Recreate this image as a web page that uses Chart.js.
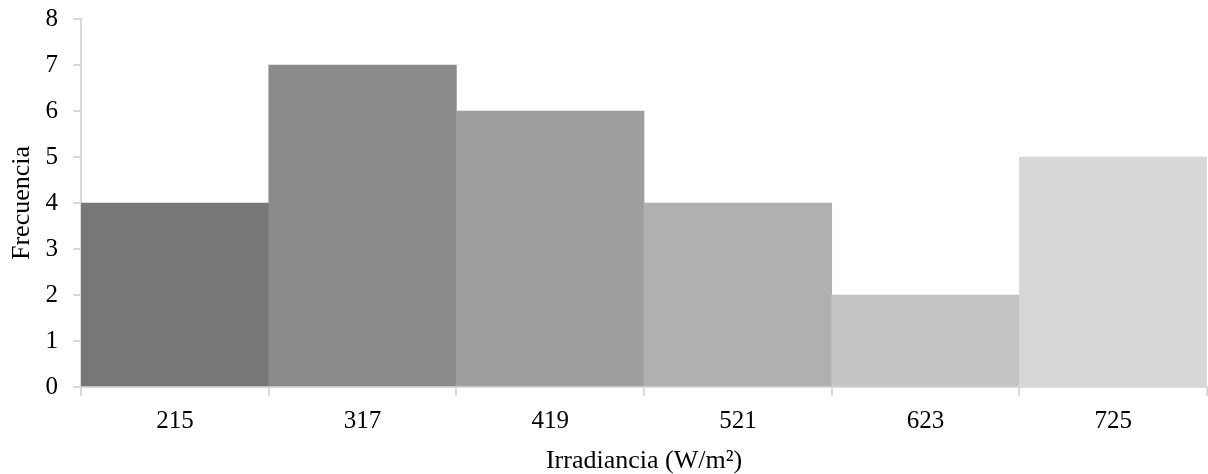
<!DOCTYPE html>
<html>
<head>
<meta charset="utf-8">
<script src="https://cdn.jsdelivr.net/npm/chart.js@4/dist/chart.umd.min.js"></script>
<style>
  html, body { margin: 0; padding: 0; background: #fff; }
  #wrap { width: 1208px; height: 474px; }
</style>
</head>
<body>
<div id="wrap"><canvas id="myChart-histogram"></canvas></div>
<script>
const categories = ["215", "317", "419", "521", "623", "725"];
const frecuencia = [4, 7, 6, 4, 2, 5];
const barColors = ["#777777", "#8b8b8b", "#9e9e9e", "#b0b0b0", "#c4c4c4", "#d7d7d7"];
const yTicks = [0, 1, 2, 3, 4, 5, 6, 7, 8];

const histChart = document.getElementById("myChart-histogram");
const axisColor = "#d9d9d9";
const serif = "'Liberation Serif', 'Times New Roman', serif";

new Chart(histChart, {
  type: "bar",
  data: {
    labels: categories,
    datasets: [
      {
        label: "Frecuencia",
        data: frecuencia,
        backgroundColor: barColors,
        borderWidth: 0,
        barPercentage: 1,
        categoryPercentage: 1,
      },
    ],
  },
  options: {
    responsive: true,
    maintainAspectRatio: false,
    animation: false,
    layout: { padding: { top: 0, right: 1, left: 14, bottom: 0 } },
    plugins: {
      legend: { display: false },
      tooltip: { enabled: false },
    },
    scales: {
      x: {
        grid: {
          drawOnChartArea: false,
          drawTicks: true,
          tickLength: 9,
          color: axisColor,
          lineWidth: 2,
        },
        border: { color: axisColor, width: 2 },
        ticks: { color: "#000", font: { family: serif, size: 25 }, padding: 10 },
        title: {
          display: true,
          text: "Irradiancia (W/m²)",
          color: "#000",
          font: { family: serif, size: 26, lineHeight: 1 },
          padding: { top: 2, bottom: 0 },
        },
      },
      y: {
        min: 0,
        max: 8,
        afterBuildTicks: (axis) => {
          axis.ticks = yTicks.map((v) => ({ value: v }));
        },
        grid: {
          drawOnChartArea: false,
          drawTicks: true,
          tickLength: 8,
          color: axisColor,
          lineWidth: 2,
        },
        border: { color: axisColor, width: 2 },
        ticks: { color: "#000", font: { family: serif, size: 25, lineHeight: 0.32 }, padding: 15 },
        title: {
          display: true,
          text: "Frecuencia",
          color: "#000",
          font: { family: serif, size: 26, lineHeight: 0.6 },
          padding: { top: 0, bottom: 1 },
        },
      },
    },
  },
});
</script>
</body>
</html>
